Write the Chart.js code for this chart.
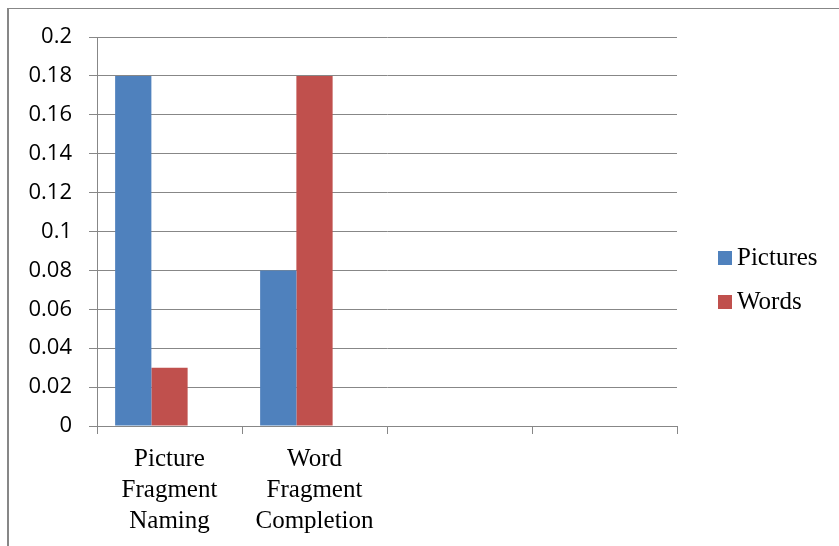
<!DOCTYPE html>
<html><head><meta charset="utf-8">
<script src="https://cdn.jsdelivr.net/npm/chart.js@4/dist/chart.umd.min.js"></script>
<style>html,body{margin:0;padding:0;background:#fff;overflow:hidden}</style>
</head><body>
<canvas id="c" width="839" height="546" style="display:block;width:839px;height:546px"></canvas>
<script>
// ---- data ----
const categories = [["Picture","Fragment","Naming"],["Word","Fragment","Completion"],"",""];
const seriesNames = ["Pictures","Words"];
const picturesValues = [0.18, 0.08, null, null];
const wordsValues = [0.03, 0.18, null, null];
const emptySeries = [null, null, null, null];
const yTickValues = [0, 0.02, 0.04, 0.06, 0.08, 0.1, 0.12, 0.14, 0.16, 0.18, 0.2];
const yTickLabels = ["0","0.02","0.04","0.06","0.08","0.1","0.12","0.14","0.16","0.18","0.2"];
const seriesColors = ["#4F81BD", "#C0504D"];

const GRID = '#878787';
const SERIF = '"Liberation Serif", "Times New Roman", serif';
const SANS = '"Open Sans", sans-serif';

const frame = {
  id: 'frame',
  beforeDraw(chart) {
    const ctx = chart.ctx;
    ctx.save();
    ctx.fillStyle = '#fff';
    ctx.fillRect(0, 0, chart.width, chart.height);
    ctx.strokeStyle = GRID;
    ctx.lineWidth = 2;
    ctx.beginPath();
    ctx.moveTo(8, 8); ctx.lineTo(8, chart.height);
    ctx.stroke();
    ctx.lineWidth = 1;
    ctx.beginPath();
    ctx.moveTo(7, 8.5); ctx.lineTo(chart.width, 8.5);
    ctx.stroke();
    ctx.restore();
  }
};

const sideLegend = {
  id: 'sideLegend',
  afterDraw(chart) {
    const ctx = chart.ctx;
    const area = chart.chartArea;
    const x0 = area.right + 41;
    let base = chart.height / 2 - 8;
    ctx.save();
    ctx.font = '25px ' + SERIF;
    ctx.textBaseline = 'alphabetic';
    ctx.textAlign = 'left';
    chart.data.datasets.forEach(ds => {
      if (!ds.label) return;
      ctx.fillStyle = ds.backgroundColor;
      ctx.fillRect(x0, base - 14, 14, 14);
      ctx.fillStyle = '#000';
      ctx.fillText(ds.label, x0 + 19, base);
      base += 44;
    });
    ctx.restore();
  }
};

new Chart(document.getElementById('c'), {
  type: 'bar',
  data: {
    labels: categories,
    datasets: [
      { label: seriesNames[0], data: picturesValues, backgroundColor: seriesColors[0] },
      { label: seriesNames[1], data: wordsValues, backgroundColor: seriesColors[1] },
      { label: '', data: emptySeries, backgroundColor: 'rgba(0,0,0,0)' }
    ]
  },
  options: {
    responsive: false,
    animation: false,
    devicePixelRatio: 1,
    datasets: { bar: { categoryPercentage: 0.75, barPercentage: 1, borderWidth: 0 } },
    layout: { padding: { left: 0, top: 37, right: 162, bottom: 0 } },
    plugins: { legend: { display: false }, tooltip: { enabled: false } },
    scales: {
      x: {
        grid: { display: true, drawOnChartArea: false, drawTicks: true, tickLength: 8, offset: true, color: GRID, lineWidth: 1 },
        border: { display: true, color: GRID, width: 1 },
        ticks: { color: '#000', font: { family: SERIF, size: 25, lineHeight: 1.24 }, maxRotation: 0, minRotation: 0, autoSkip: false, padding: 10 },
        afterFit(scale) { scale.height = 120; }
      },
      y: {
        min: 0, max: 0.2,
        grid: { color: GRID, lineWidth: 1, tickLength: 8, drawTicks: true },
        border: { display: true, color: GRID, width: 1 },
        afterBuildTicks(scale) { scale.ticks = yTickValues.map(v => ({ value: v })); },
        ticks: {
          color: '#000', font: { family: SANS, size: 22 }, padding: 17,
          callback(value) { const i = yTickValues.indexOf(value); return i >= 0 ? yTickLabels[i] : ''; }
        },
        afterFit(scale) { scale.width = 97; }
      }
    }
  },
  plugins: [frame, sideLegend]
});
</script>
</body></html>
